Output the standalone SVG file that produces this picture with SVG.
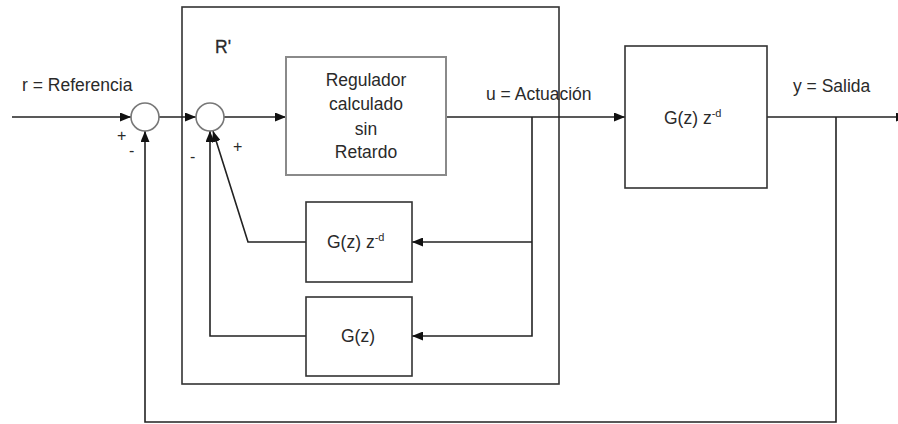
<svg xmlns="http://www.w3.org/2000/svg" width="898" height="424" viewBox="0 0 898 424">
  <style>
    .ln { fill: none; stroke: #222; stroke-width: 1.6; }
    .box { fill: #fff; stroke: #333; stroke-width: 1.6; }
    .gbox { fill: #fff; stroke: #8a8a8a; stroke-width: 2; }
    .sum { fill: #fff; stroke: #777; stroke-width: 1.6; }
    .t { font-family: "Liberation Sans", Arial, sans-serif; font-size: 17.5px; fill: #2a2a2a; }
    .sup { font-size: 11px; }
    .sg { font-family: "Liberation Sans", Arial, sans-serif; font-size: 16px; fill: #2a2a2a; }
  </style>
  <defs>
    <marker id="arr" viewBox="0 0 11 9" refX="11" refY="4.5" markerWidth="11" markerHeight="9" markerUnits="userSpaceOnUse" orient="auto">
      <path d="M0,0 L11,4.5 L0,9 Z" fill="#111"/>
    </marker>
  </defs>

  <!-- R' enclosure -->
  <g id="rprime">
    <rect x="182" y="7" width="377" height="377" fill="none" stroke="#333" stroke-width="1.6"/>
    <text class="t" x="215" y="53" stroke="#2a2a2a" stroke-width="0.3">R'</text>
  </g>

  <!-- connectors -->
  <g id="connectors">
    <line class="ln" x1="12" y1="117" x2="131" y2="117" marker-end="url(#arr)"/>
    <line class="ln" x1="159" y1="117" x2="196" y2="117" marker-end="url(#arr)"/>
    <line class="ln" x1="224" y1="117" x2="286" y2="117" marker-end="url(#arr)"/>
    <line class="ln" x1="446" y1="117" x2="625" y2="117" marker-end="url(#arr)"/>
    <line class="ln" x1="767" y1="117" x2="907" y2="117" marker-end="url(#arr)"/>
    <!-- inner branches from u -->
    <polyline class="ln" points="532,117 532,336 412,336" marker-end="url(#arr)"/>
    <line class="ln" x1="532" y1="242" x2="412" y2="242" marker-end="url(#arr)"/>
    <!-- inner feedback into second summer -->
    <polyline class="ln" points="306,242 248,242 213,131" marker-end="url(#arr)"/>
    <polyline class="ln" points="306,336 210,336 210,131" marker-end="url(#arr)"/>
    <!-- outer feedback from y -->
    <polyline class="ln" points="836,117 836,422 145,422 145,131" marker-end="url(#arr)"/>
  </g>

  <g id="sum1">
    <circle class="sum" cx="145" cy="117" r="14"/>
    <text class="sg" x="117" y="141">+</text>
    <text class="sg" x="129" y="156">-</text>
  </g>

  <g id="sum2">
    <circle class="sum" cx="210" cy="117" r="14"/>
    <text class="sg" x="190" y="162">-</text>
    <text class="sg" x="233" y="152">+</text>
  </g>

  <g id="regulador">
    <rect class="gbox" x="286" y="57" width="160" height="118"/>
    <text class="t" x="366" y="86" text-anchor="middle">Regulador</text>
    <text class="t" x="366" y="110" text-anchor="middle">calculado</text>
    <text class="t" x="366" y="135" text-anchor="middle">sin</text>
    <text class="t" x="366" y="158" text-anchor="middle">Retardo</text>
  </g>

  <g id="modelo-retardo">
    <rect class="box" x="306" y="202" width="106" height="80"/>
    <text class="t" x="327" y="248">G(z) z<tspan class="sup" dy="-7">-d</tspan></text>
  </g>

  <g id="modelo">
    <rect class="box" x="306" y="297" width="106" height="79"/>
    <text class="t" x="341" y="342">G(z)</text>
  </g>

  <g id="planta">
    <rect class="box" x="625" y="46" width="142" height="142"/>
    <text class="t" x="664" y="124">G(z) z<tspan class="sup" dy="-7">-d</tspan></text>
  </g>

  <g id="labels">
    <text class="t" x="22" y="91">r = Referencia</text>
    <text class="t" x="486" y="100">u = Actuación</text>
    <text class="t" x="793" y="92">y = Salida</text>
  </g>
</svg>
